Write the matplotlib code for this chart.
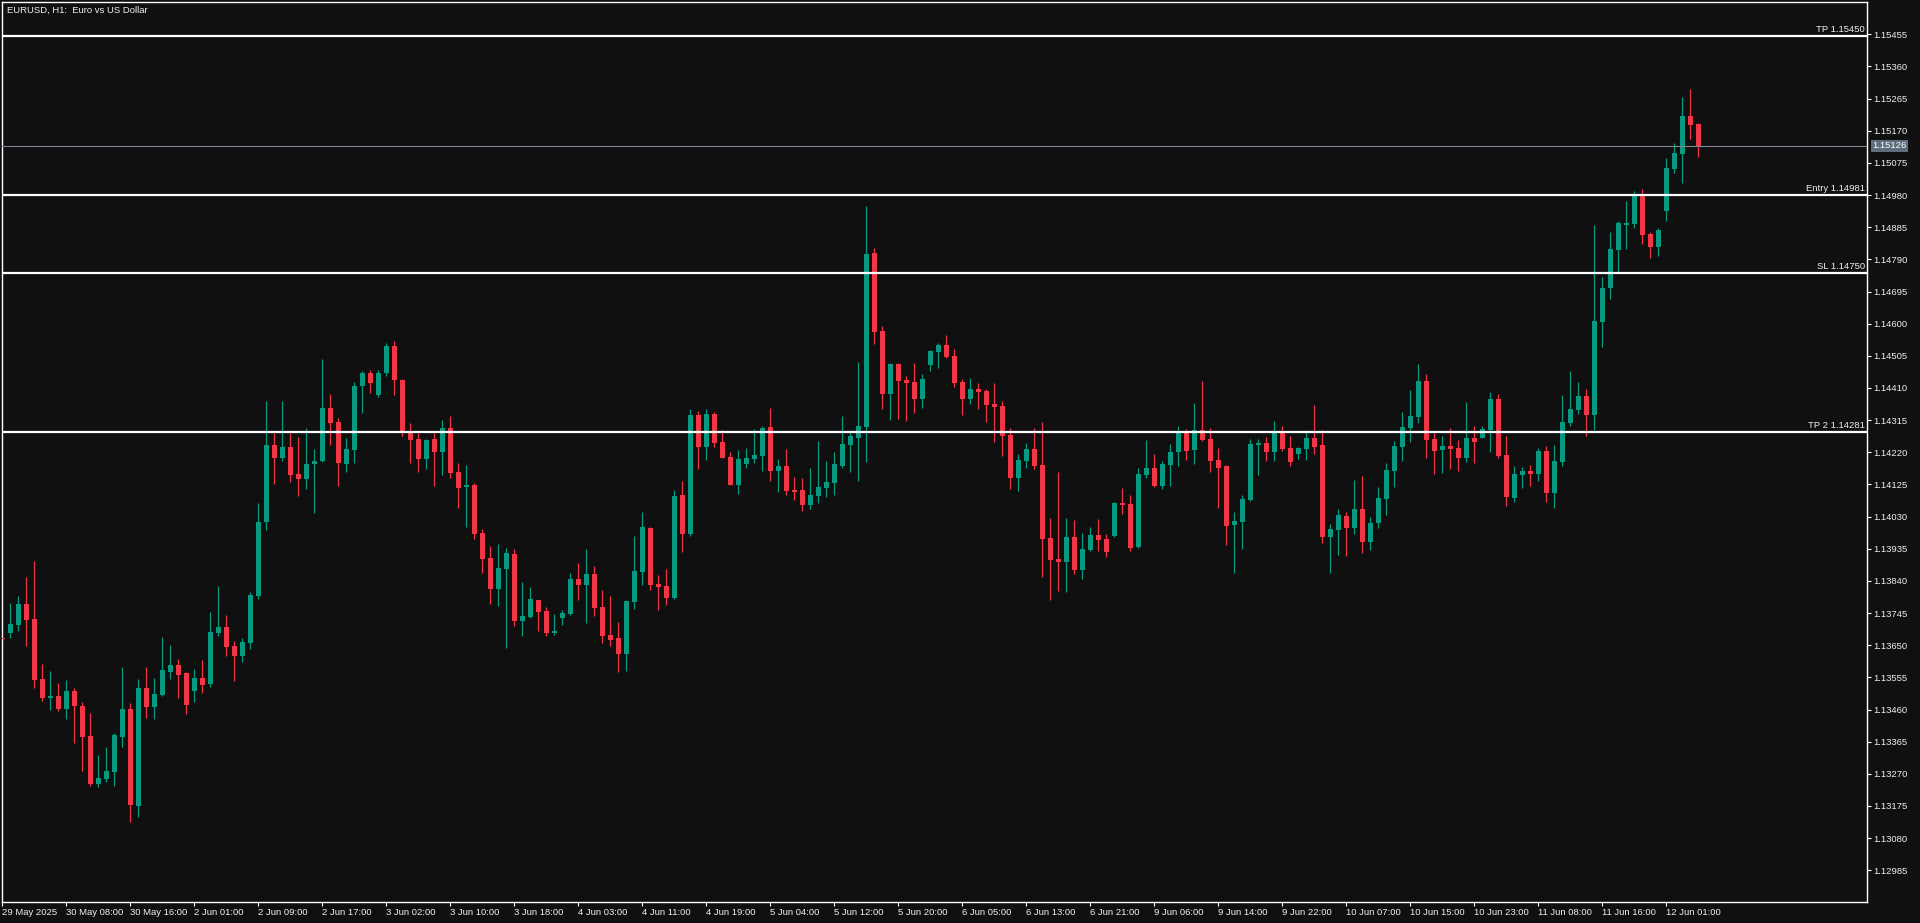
import matplotlib
matplotlib.use('Agg')
import matplotlib.pyplot as plt
import matplotlib.transforms as mtransforms
import numpy as np

# ---------------- data (EURUSD H1) ----------------
opens = [1.13670, 1.13687, 1.13710, 1.13772, 1.13728, 1.13550, 1.13495, 1.13500, 1.13463, 1.13515,
         1.13470, 1.13382, 1.13241, 1.13256, 1.13276, 1.13380, 1.13462, 1.13176, 1.13524, 1.13466,
         1.13504, 1.13572, 1.13592, 1.13568, 1.13516, 1.13553, 1.13534, 1.13687, 1.13704, 1.13648,
         1.13619, 1.13658, 1.13796, 1.14015, 1.14242, 1.14204, 1.14236, 1.14156, 1.14142, 1.14184,
         1.14193, 1.14351, 1.14310, 1.14186, 1.14227, 1.14417, 1.14454, 1.14390, 1.14455, 1.14534,
         1.14433, 1.14280, 1.14259, 1.14201, 1.14259, 1.14221, 1.14291, 1.14161, 1.14118, 1.14123,
         1.13981, 1.13907, 1.13817, 1.13876, 1.13919, 1.13722, 1.13734, 1.13783, 1.13751, 1.13687,
         1.13731, 1.13743, 1.13845, 1.13827, 1.13860, 1.13762, 1.13680, 1.13671, 1.13625, 1.13778,
         1.13867, 1.13996, 1.13830, 1.13824, 1.13790, 1.14093, 1.13978, 1.14330, 1.14236, 1.14333,
         1.14250, 1.14206, 1.14124, 1.14186, 1.14201, 1.14210, 1.14294, 1.14165, 1.14179, 1.14109,
         1.14109, 1.14065, 1.14091, 1.14115, 1.14130, 1.14180, 1.14242, 1.14263, 1.14295, 1.14809,
         1.14578, 1.14393, 1.14481, 1.14433, 1.14427, 1.14377, 1.14478, 1.14517, 1.14537, 1.14504,
         1.14427, 1.14377, 1.14407, 1.14401, 1.14362, 1.14356, 1.14271, 1.14145, 1.14194, 1.14230,
         1.14182, 1.13967, 1.13905, 1.13896, 1.13970, 1.13872, 1.13931, 1.13975, 1.13964, 1.13972,
         1.14070, 1.14067, 1.13940, 1.14153, 1.14173, 1.14120, 1.14183, 1.14221, 1.14280, 1.14227,
         1.14286, 1.14259, 1.14197, 1.14179, 1.14005, 1.14014, 1.14079, 1.14241, 1.14247, 1.14221,
         1.14280, 1.14233, 1.14215, 1.14230, 1.14261, 1.14243, 1.13970, 1.13990, 1.14032, 1.13996,
         1.14052, 1.13955, 1.14010, 1.14083, 1.14166, 1.14237, 1.14293, 1.14325, 1.14431, 1.14259,
         1.14227, 1.14238, 1.14232, 1.14204, 1.14262, 1.14263, 1.14287, 1.14377, 1.14212, 1.14086,
         1.14154, 1.14165, 1.14157, 1.14224, 1.14101, 1.14192, 1.14307, 1.14346, 1.14386, 1.14331,
         1.14606, 1.14704, 1.14819, 1.14891, 1.14894, 1.14980, 1.14865, 1.14827, 1.14934, 1.15057,
         1.15101, 1.15214, 1.15190]
highs = [1.13672, 1.13775, 1.13796, 1.13852, 1.13899, 1.13595, 1.13574, 1.13538, 1.13547, 1.13524,
         1.13482, 1.13450, 1.13326, 1.13349, 1.13391, 1.13586, 1.13479, 1.13550, 1.13586, 1.13553,
         1.13674, 1.13651, 1.13609, 1.13570, 1.13580, 1.13606, 1.13748, 1.13825, 1.13739, 1.13663,
         1.13672, 1.13807, 1.14070, 1.14372, 1.14278, 1.14372, 1.14278, 1.14265, 1.14292, 1.14230,
         1.14496, 1.14392, 1.14321, 1.14262, 1.14427, 1.14460, 1.14463, 1.14463, 1.14543, 1.14549,
         1.14436, 1.14306, 1.14277, 1.14259, 1.14277, 1.14315, 1.14327, 1.14188, 1.14182, 1.14129,
         1.13993, 1.13943, 1.13949, 1.13937, 1.13934, 1.13836, 1.13822, 1.13785, 1.13762, 1.13742,
         1.13754, 1.13863, 1.13892, 1.13934, 1.13883, 1.13813, 1.13795, 1.13718, 1.13783, 1.13972,
         1.14043, 1.14000, 1.13857, 1.13875, 1.14108, 1.14135, 1.14348, 1.14342, 1.14348, 1.14339,
         1.14286, 1.14221, 1.14227, 1.14232, 1.14289, 1.14297, 1.14351, 1.14200, 1.14229, 1.14147,
         1.14143, 1.14173, 1.14253, 1.14194, 1.14221, 1.14327, 1.14286, 1.14487, 1.14947, 1.14824,
         1.14593, 1.14483, 1.14484, 1.14445, 1.14484, 1.14451, 1.14521, 1.14543, 1.14566, 1.14525,
         1.14436, 1.14439, 1.14424, 1.14407, 1.14424, 1.14371, 1.14291, 1.14215, 1.14247, 1.14292,
         1.14309, 1.14026, 1.14162, 1.14026, 1.14020, 1.13981, 1.13999, 1.14023, 1.13978, 1.14073,
         1.14114, 1.14094, 1.14173, 1.14256, 1.14215, 1.14194, 1.14245, 1.14298, 1.14289, 1.14365,
         1.14431, 1.14292, 1.14233, 1.14182, 1.14044, 1.14094, 1.14259, 1.14259, 1.14265, 1.14312,
         1.14298, 1.14267, 1.14236, 1.14286, 1.14360, 1.14286, 1.14008, 1.14052, 1.14044, 1.14138,
         1.14150, 1.14030, 1.14117, 1.14188, 1.14253, 1.14339, 1.14404, 1.14481, 1.14451, 1.14278,
         1.14268, 1.14292, 1.14256, 1.14368, 1.14298, 1.14298, 1.14398, 1.14392, 1.14269, 1.14179,
         1.14176, 1.14182, 1.14233, 1.14238, 1.14242, 1.14389, 1.14460, 1.14428, 1.14407, 1.14892,
         1.14738, 1.14871, 1.14903, 1.14963, 1.14992, 1.14998, 1.14871, 1.14883, 1.15090, 1.15134,
         1.15270, 1.15293, 1.15193]
lows = [1.13666, 1.13672, 1.13693, 1.13649, 1.13525, 1.13486, 1.13460, 1.13457, 1.13433, 1.13362,
        1.13279, 1.13235, 1.13232, 1.13247, 1.13235, 1.13350, 1.13129, 1.13141, 1.13436, 1.13433,
        1.13501, 1.13551, 1.13495, 1.13447, 1.13483, 1.13510, 1.13528, 1.13678, 1.13619, 1.13545,
        1.13601, 1.13640, 1.13788, 1.13989, 1.14127, 1.14195, 1.14133, 1.14092, 1.14113, 1.14042,
        1.14190, 1.14243, 1.14119, 1.14162, 1.14189, 1.14337, 1.14396, 1.14384, 1.14446, 1.14390,
        1.14268, 1.14189, 1.14162, 1.14171, 1.14121, 1.14154, 1.14145, 1.14056, 1.13998, 1.13964,
        1.13864, 1.13772, 1.13766, 1.13642, 1.13707, 1.13678, 1.13731, 1.13693, 1.13678, 1.13681,
        1.13710, 1.13740, 1.13784, 1.13716, 1.13737, 1.13657, 1.13648, 1.13571, 1.13574, 1.13758,
        1.13829, 1.13814, 1.13754, 1.13769, 1.13788, 1.13926, 1.13973, 1.14171, 1.14198, 1.14236,
        1.14202, 1.14122, 1.14097, 1.14174, 1.14189, 1.14165, 1.14135, 1.14103, 1.14094, 1.14080,
        1.14047, 1.14053, 1.14070, 1.14088, 1.14094, 1.14174, 1.14162, 1.14135, 1.14192, 1.14541,
        1.14349, 1.14316, 1.14319, 1.14313, 1.14336, 1.14351, 1.14461, 1.14470, 1.14498, 1.14414,
        1.14330, 1.14363, 1.14347, 1.14310, 1.14251, 1.14210, 1.14112, 1.14106, 1.14173, 1.14170,
        1.13851, 1.13783, 1.13810, 1.13807, 1.13860, 1.13845, 1.13928, 1.13928, 1.13910, 1.13970,
        1.14037, 1.13928, 1.13937, 1.14143, 1.14118, 1.14111, 1.14120, 1.14179, 1.14197, 1.14185,
        1.14254, 1.14162, 1.14055, 1.13946, 1.13863, 1.13934, 1.14076, 1.14153, 1.14194, 1.14194,
        1.14224, 1.14179, 1.14199, 1.14197, 1.14214, 1.13951, 1.13863, 1.13916, 1.13913, 1.13979,
        1.13922, 1.13930, 1.13995, 1.14036, 1.14116, 1.14195, 1.14251, 1.14307, 1.14204, 1.14157,
        1.14160, 1.14172, 1.14166, 1.14192, 1.14189, 1.14261, 1.14222, 1.14204, 1.14062, 1.14074,
        1.14115, 1.14121, 1.14136, 1.14074, 1.14056, 1.14180, 1.14298, 1.14334, 1.14269, 1.14287,
        1.14532, 1.14674, 1.14751, 1.14821, 1.14883, 1.14835, 1.14794, 1.14800, 1.14904, 1.15045,
        1.15016, 1.15146, 1.15093]
closes = [1.13668, 1.13713, 1.13772, 1.13725, 1.13548, 1.13495, 1.13500, 1.13463, 1.13515, 1.13469,
          1.13380, 1.13241, 1.13258, 1.13278, 1.13385, 1.13462, 1.13179, 1.13524, 1.13466, 1.13506,
          1.13577, 1.13592, 1.13563, 1.13474, 1.13553, 1.13531, 1.13689, 1.13704, 1.13646, 1.13619,
          1.13660, 1.13798, 1.14014, 1.14242, 1.14204, 1.14236, 1.14154, 1.14142, 1.14186, 1.14195,
          1.14351, 1.14308, 1.14187, 1.14229, 1.14416, 1.14454, 1.14425, 1.14454, 1.14534, 1.14434,
          1.14283, 1.14256, 1.14201, 1.14256, 1.14221, 1.14291, 1.14159, 1.14115, 1.14123, 1.13979,
          1.13905, 1.13817, 1.13878, 1.13922, 1.13722, 1.13736, 1.13786, 1.13749, 1.13687, 1.13692,
          1.13745, 1.13845, 1.13827, 1.13860, 1.13760, 1.13678, 1.13666, 1.13625, 1.13780, 1.13869,
          1.14000, 1.13829, 1.13823, 1.13790, 1.14090, 1.13979, 1.14330, 1.14236, 1.14333, 1.14248,
          1.14204, 1.14124, 1.14200, 1.14203, 1.14212, 1.14291, 1.14165, 1.14179, 1.14106, 1.14103,
          1.14065, 1.14093, 1.14117, 1.14132, 1.14185, 1.14244, 1.14268, 1.14297, 1.14806, 1.14576,
          1.14393, 1.14481, 1.14431, 1.14425, 1.14377, 1.14436, 1.14519, 1.14537, 1.14501, 1.14425,
          1.14377, 1.14407, 1.14399, 1.14360, 1.14354, 1.14269, 1.14145, 1.14197, 1.14230, 1.14179,
          1.13964, 1.13902, 1.13896, 1.13970, 1.13872, 1.13934, 1.13975, 1.13961, 1.13925, 1.14070,
          1.14064, 1.13937, 1.14156, 1.14173, 1.14120, 1.14185, 1.14221, 1.14277, 1.14224, 1.14286,
          1.14256, 1.14194, 1.14173, 1.14003, 1.14017, 1.14082, 1.14244, 1.14247, 1.14221, 1.14280,
          1.14230, 1.14192, 1.14233, 1.14261, 1.14237, 1.13970, 1.13993, 1.14035, 1.13996, 1.14052,
          1.13955, 1.14010, 1.14085, 1.14168, 1.14238, 1.14295, 1.14327, 1.14431, 1.14257, 1.14225,
          1.14238, 1.14230, 1.14204, 1.14262, 1.14251, 1.14289, 1.14377, 1.14210, 1.14089, 1.14156,
          1.14165, 1.14157, 1.14224, 1.14101, 1.14194, 1.14309, 1.14348, 1.14386, 1.14331, 1.14608,
          1.14706, 1.14821, 1.14897, 1.14897, 1.14980, 1.14862, 1.14827, 1.14877, 1.15060, 1.15104,
          1.15214, 1.15187, 1.15126]

time_labels = ["29 May 2025", "30 May 08:00", "30 May 16:00", "2 Jun 01:00", "2 Jun 09:00",
               "2 Jun 17:00", "3 Jun 02:00", "3 Jun 10:00", "3 Jun 18:00", "4 Jun 03:00",
               "4 Jun 11:00", "4 Jun 19:00", "5 Jun 04:00", "5 Jun 12:00", "5 Jun 20:00",
               "6 Jun 05:00", "6 Jun 13:00", "6 Jun 21:00", "9 Jun 06:00", "9 Jun 14:00",
               "9 Jun 22:00", "10 Jun 07:00", "10 Jun 15:00", "10 Jun 23:00", "11 Jun 08:00",
               "11 Jun 16:00", "12 Jun 01:00"]
bars_per_label = 8

price_ticks = [1.15455, 1.15360, 1.15265, 1.15170, 1.15075, 1.14980, 1.14885, 1.14790, 1.14695,
               1.14600, 1.14505, 1.14410, 1.14315, 1.14220, 1.14125, 1.14030, 1.13935, 1.13840,
               1.13745, 1.13650, 1.13555, 1.13460, 1.13365, 1.13270, 1.13175, 1.13080, 1.12985]

level_names = ["TP", "Entry", "SL", "TP 2"]
level_prices = [1.15450, 1.14981, 1.14750, 1.14281]
bid_price = 1.15126

title = "EURUSD, H1:  Euro vs US Dollar"

# ---------------- style ----------------
BG = '#101010'
UP = '#089981'
DN = '#f23645'
FG = '#f0f0f0'
FONT = ['Liberation Sans', 'DejaVu Sans']
FS = 6.8

plt.rcParams['font.family'] = FONT

W, H = 1920, 923
fig = plt.figure(figsize=(W / 100, H / 100), dpi=100, facecolor=BG)
ax_l, ax_r, ax_t, ax_b = 2, 1867, 2, 902
ax = fig.add_axes([ax_l / W, 1 - ax_b / H, (ax_r - ax_l) / W, (ax_b - ax_t) / H])
ax.set_facecolor(BG)

o = np.array(opens); h = np.array(highs); l = np.array(lows); c = np.array(closes)
x = np.arange(len(o))
up = c >= o
colors = np.where(up, UP, DN)

ax.set_xlim(-0.04, 233.08)
ax.set_ylim(1.128913, 1.155504)

# wicks
ax.vlines(x, l, h, colors=colors, linewidth=0.9, zorder=2)
# bodies
px = (1.155504 - 1.128913) / (ax_b - ax_t)
body_bottom = np.minimum(o, c)
body_h = np.maximum(np.abs(c - o), 1.3 * px)
ax.bar(x, body_h, bottom=body_bottom, width=0.62, color=colors, linewidth=0, zorder=3)

# level lines
blend = mtransforms.blended_transform_factory(ax.transAxes, ax.transData)
for name, p in zip(level_names, level_prices):
    ax.axhline(p, color='white', linewidth=1.6, zorder=4)
    ax.annotate(f"{name} {p:.5f}", xy=(1.0, p), xycoords=blend, xytext=(-2, 2),
                textcoords='offset pixels', ha='right', va='bottom', fontsize=FS, color=FG,
                zorder=5)

# bid line
ax.axhline(bid_price, color='#7d8692', linewidth=0.8, zorder=4)
ax.annotate(f"{bid_price:.5f}", xy=(1.0, bid_price), xycoords=blend, xytext=(5, 0),
            textcoords='offset pixels', ha='left', va='center', fontsize=FS, color='white',
            annotation_clip=False,
            bbox=dict(boxstyle='square,pad=0.15', facecolor='#5e6d7d', edgecolor='none'),
            zorder=6)

# axes / ticks
for s in ax.spines.values():
    s.set_color('white')
    s.set_linewidth(1.0)

ax.yaxis.tick_right()
ax.set_yticks(price_ticks)
ax.set_yticklabels([f"{t:.5f}" for t in price_ticks])
ax.tick_params(axis='y', direction='out', length=3, width=0.8, color='white',
               labelcolor=FG, labelsize=FS, pad=1.5)

xt = np.arange(len(time_labels)) * bars_per_label
ax.set_xticks(xt)
ax.set_xticklabels(time_labels)
ax.tick_params(axis='x', direction='out', length=3, width=0.8, color='white',
               labelcolor=FG, labelsize=FS, pad=1.5)
for lbl in ax.get_xticklabels():
    lbl.set_horizontalalignment('left')

fig.text(7 / W, 1 - 10 / H, title, ha='left', va='center', fontsize=FS, color=FG)

fig.savefig('out.png', dpi=100, facecolor=BG)
